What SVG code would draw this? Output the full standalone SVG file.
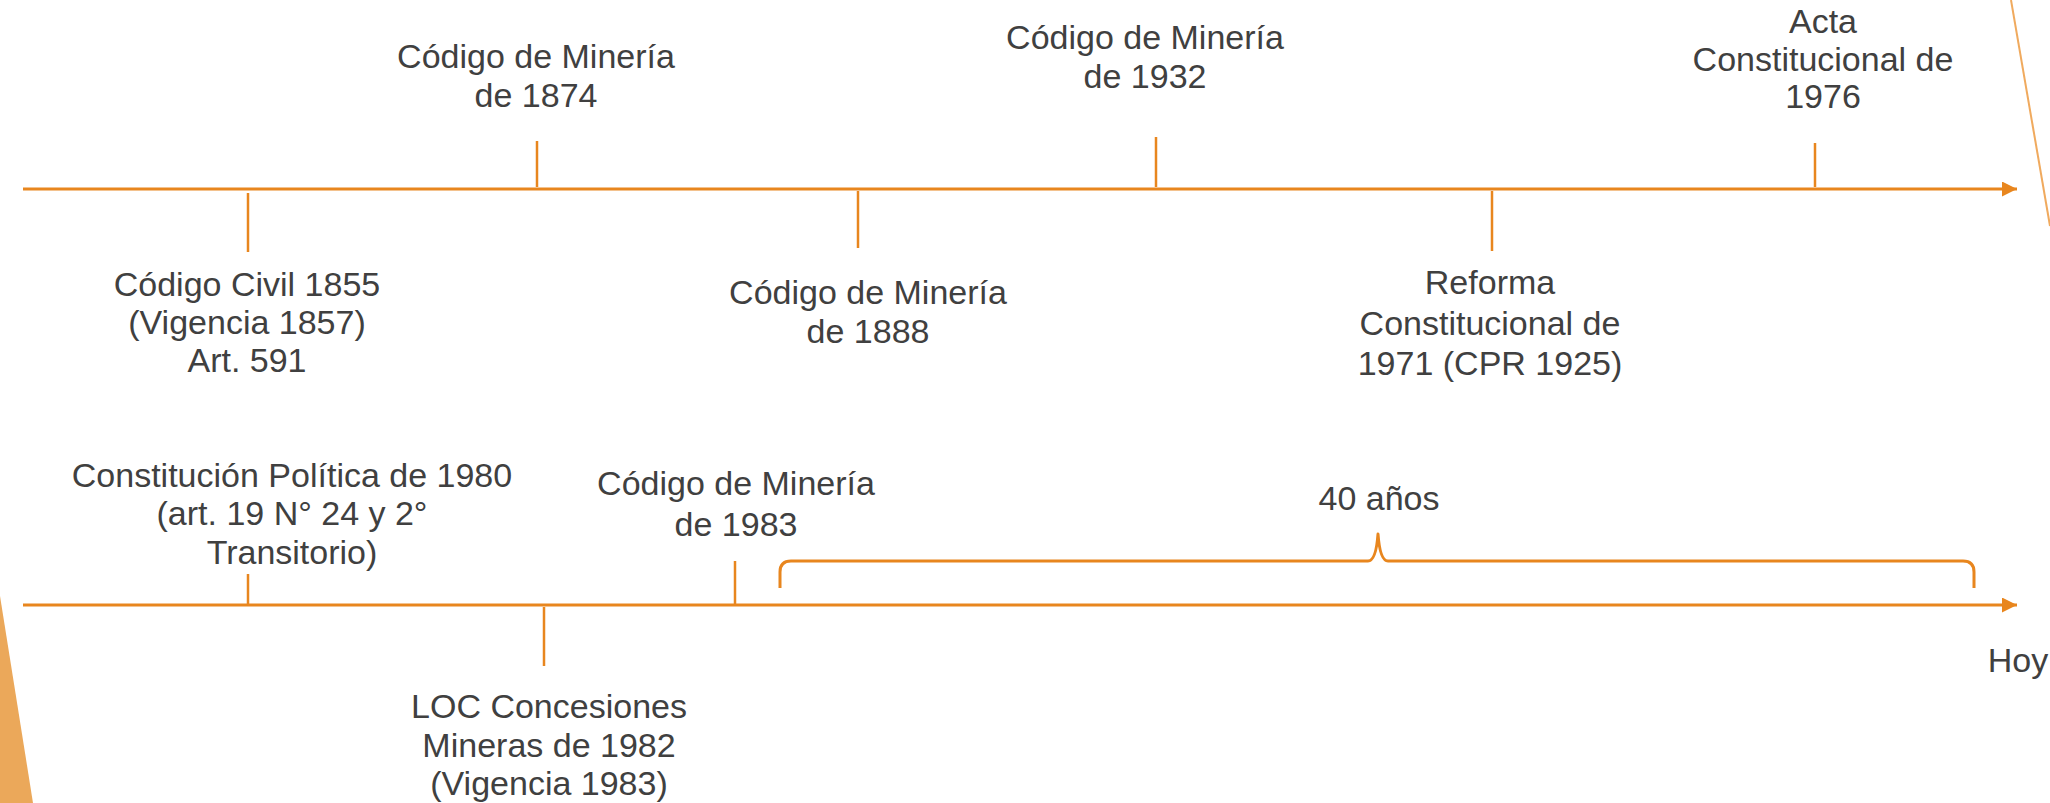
<svg xmlns="http://www.w3.org/2000/svg" width="2050" height="803" viewBox="0 0 2050 803">
  <style>
    .lbl { font-family: "Liberation Sans", Arial, sans-serif; font-size: 34px; fill: #404040; text-anchor: middle; }
    .axis { stroke: #E8861E; stroke-width: 3; fill: none; }
    .tick { stroke: #E8861E; stroke-width: 2.5; fill: none; }
    .brace { stroke: #E8861E; stroke-width: 3; fill: none; stroke-linejoin: round; }
  </style>
  <defs>
    <marker id="arrow" viewBox="0 0 10 10" refX="10" refY="5" markerWidth="5" markerHeight="5" markerUnits="strokeWidth" orient="auto">
      <path d="M0,0 L10,5 L0,10 Z" fill="#E8861E"/>
    </marker>
  </defs>
  <rect width="2050" height="803" fill="#ffffff"/>
  <!-- decoration -->
  <polygon points="0,596 33,803 0,803" fill="#EBA85A"/>
  <line x1="2011" y1="0" x2="2050" y2="226" stroke="#F0AA5E" stroke-width="2"/>

  <g id="connectors">
    <line class="axis" x1="23" y1="189" x2="2017" y2="189" marker-end="url(#arrow)"/>
    <line class="axis" x1="23" y1="605" x2="2017" y2="605" marker-end="url(#arrow)"/>
    <line class="tick" x1="248" y1="193" x2="248" y2="252"/>
    <line class="tick" x1="537" y1="141" x2="537" y2="187"/>
    <line class="tick" x1="858" y1="191" x2="858" y2="248"/>
    <line class="tick" x1="1156" y1="137" x2="1156" y2="187"/>
    <line class="tick" x1="1492" y1="191" x2="1492" y2="251"/>
    <line class="tick" x1="1815" y1="143" x2="1815" y2="187"/>
    <line class="tick" x1="248" y1="574" x2="248" y2="605"/>
    <line class="tick" x1="735" y1="561" x2="735" y2="605"/>
    <line class="tick" x1="544" y1="607" x2="544" y2="666"/>
    <path class="brace" d="M780,588 L780,572 Q780,561 791,561 L1368,561 Q1376,561 1378,534 Q1380,561 1388,561 L1963,561 Q1974,561 1974,572 L1974,588"/>
  </g>

  <g id="n-codigo-civil">
    <text class="lbl" x="247" y="296">Código Civil 1855</text>
    <text class="lbl" x="247" y="334">(Vigencia 1857)</text>
    <text class="lbl" x="247" y="372">Art. 591</text>
  </g>
  <g id="n-mineria-1874">
    <text class="lbl" x="536" y="68">Código de Minería</text>
    <text class="lbl" x="536" y="107">de 1874</text>
  </g>
  <g id="n-mineria-1888">
    <text class="lbl" x="868" y="304">Código de Minería</text>
    <text class="lbl" x="868" y="343">de 1888</text>
  </g>
  <g id="n-mineria-1932">
    <text class="lbl" x="1145" y="49">Código de Minería</text>
    <text class="lbl" x="1145" y="88">de 1932</text>
  </g>
  <g id="n-reforma-1971">
    <text class="lbl" x="1490" y="294">Reforma</text>
    <text class="lbl" x="1490" y="335">Constitucional de</text>
    <text class="lbl" x="1490" y="375">1971 (CPR 1925)</text>
  </g>
  <g id="n-acta-1976">
    <text class="lbl" x="1823" y="33">Acta</text>
    <text class="lbl" x="1823" y="71">Constitucional de</text>
    <text class="lbl" x="1823" y="108">1976</text>
  </g>
  <g id="n-cpr-1980">
    <text class="lbl" x="292" y="487">Constitución Política de 1980</text>
    <text class="lbl" x="292" y="525">(art. 19 N° 24 y 2°</text>
    <text class="lbl" x="292" y="564">Transitorio)</text>
  </g>
  <g id="n-mineria-1983">
    <text class="lbl" x="736" y="495">Código de Minería</text>
    <text class="lbl" x="736" y="536">de 1983</text>
  </g>
  <g id="n-loc-1982">
    <text class="lbl" x="549" y="718">LOC Concesiones</text>
    <text class="lbl" x="549" y="757">Mineras de 1982</text>
    <text class="lbl" x="549" y="795">(Vigencia 1983)</text>
  </g>
  <g id="n-40-anos">
    <text class="lbl" x="1379" y="510">40 años</text>
  </g>
  <g id="n-hoy">
    <text class="lbl" x="2018" y="672">Hoy</text>
  </g>
</svg>
